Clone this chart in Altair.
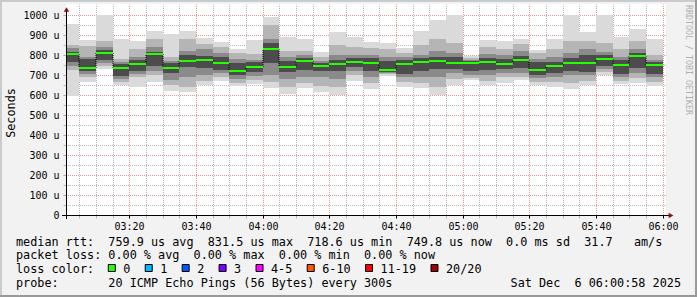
import altair as alt
import pandas as pd

# ---- data (minutes after 03:00, microseconds) ----
bar_start = [0, 5, 10, 15, 20, 25, 30, 35, 40, 45, 50, 55, 60, 65, 70, 75, 80, 85,
             90, 95, 100, 105, 110, 115, 120, 125, 130, 135, 140, 145, 150, 155, 160, 165, 170, 175]
medians = [803, 737, 808, 737, 753, 803, 735, 770, 775, 758, 719, 742, 832, 742, 772, 745, 753, 763,
           758, 725, 753, 765, 772, 758, 758, 767, 756, 775, 725, 745, 758, 758, 782, 750, 795, 750]
ping_min = [595, 667, 730, 650, 640, 667, 620, 617, 648, 670, 645, 655, 637, 603, 633, 617, 600, 672,
            628, 695, 640, 633, 600, 650, 675, 648, 662, 675, 650, 640, 630, 648, 700, 655, 662, 645]
ping_max = [955, 875, 1000, 880, 870, 920, 905, 920, 887, 865, 828, 875, 988, 892, 880, 815, 915, 892,
            865, 858, 835, 920, 975, 1000, 795, 875, 872, 882, 827, 882, 1000, 915, 1000, 892, 930, 880]
band2_lo = [725, 690, 745, 665, 690, 700, 650, 640, 670, 690, 660, 675, 665, 640, 660, 645, 640, 700,
            660, 705, 665, 660, 640, 680, 685, 670, 690, 690, 665, 665, 660, 670, 715, 670, 685, 665]
band2_hi = [850, 845, 870, 780, 830, 880, 790, 880, 855, 840, 810, 805, 950, 820, 820, 790, 850, 840,
            835, 830, 810, 850, 880, 860, 785, 840, 830, 855, 810, 830, 870, 870, 860, 830, 870, 800]
band3_lo = [745, 705, 760, 680, 705, 720, 675, 690, 700, 710, 680, 695, 700, 680, 690, 690, 680, 720,
            690, 710, 690, 690, 690, 710, 700, 700, 710, 710, 685, 690, 700, 700, 730, 690, 710, 690]
band3_hi = [835, 790, 840, 765, 790, 840, 770, 820, 830, 810, 780, 775, 880, 790, 800, 770, 800, 800,
            800, 790, 790, 800, 820, 810, 775, 805, 800, 820, 780, 790, 810, 830, 815, 790, 830, 775]
band4_lo = [765, 720, 775, 695, 720, 745, 710, 740, 735, 725, 700, 715, 760, 715, 725, 720, 720, 740,
            720, 715, 705, 720, 730, 730, 720, 725, 730, 735, 700, 710, 720, 715, 745, 705, 735, 705]
band4_hi = [815, 780, 825, 755, 775, 815, 760, 800, 795, 790, 760, 765, 860, 770, 785, 760, 775, 785,
            785, 770, 775, 785, 790, 790, 770, 785, 780, 795, 765, 765, 785, 800, 800, 775, 810, 765]

x_tick_values = [5 * i for i in range(1, 37)]
y_tick_values = [50 * i for i in range(0, 21)]

loss_labels = ["0", "1", "2", "3", "4-5", "6-10", "11-19", "20/20"]
loss_colors = ["#26ff00", "#00b8ff", "#0059ff", "#7e00ff", "#ff00ff", "#ff5500", "#ff0000", "#a10000"]

legend_line1 = "median rtt:  759.9 us avg  831.5 us max  718.6 us min  749.8 us now  0.0 ms sd  31.7   am/s"
legend_line2 = "packet loss: 0.00 % avg  0.00 % max  0.00 % min  0.00 % now"
legend_line3 = "loss color:"
legend_line4 = "probe:       20 ICMP Echo Pings (56 Bytes) every 300s"
legend_date = "Sat Dec  6 06:00:58 2025"
watermark = "RRDTOOL / TOBI OETIKER"

df = pd.DataFrame({
    "start": bar_start,
    "end": [s + 5 for s in bar_start],
    "median": medians,
    "pmin": ping_min, "pmax": ping_max,
    "b2lo": band2_lo, "b2hi": band2_hi,
    "b3lo": band3_lo, "b3hi": band3_hi,
    "b4lo": band4_lo, "b4hi": band4_hi,
})
steps = pd.DataFrame({
    "start": bar_start[1:],
    "prev": medians[:-1],
    "median": medians[1:],
})

MONO = "DejaVu Sans Mono"
minor_c = "#b8b8b8"
major_c = "#e69494"


def xenc(field="start"):
    return alt.X(
        f"{field}:Q",
        scale=alt.Scale(domain=[58 / 60, 180 + 58 / 60], nice=False, zero=False, round=True),
        axis=alt.Axis(
            values=x_tick_values, title=None, domain=False, zindex=0,
            grid=True, gridDash=[1, 1], gridDashOffset=0.5, gridWidth=1,
            gridColor={"condition": {"test": "datum.value % 20 === 0", "value": major_c}, "value": minor_c},
            ticks=True, tickSize=3,
            tickColor={"condition": {"test": "datum.value % 20 === 0", "value": "#000000"}, "value": minor_c},
            labelExpr="datum.value % 20 === 0 ? '0' + (3 + floor(datum.value / 60)) + ':' + (datum.value % 60 === 0 ? '00' : '' + (datum.value % 60)) : ''",
            labelFont=MONO, labelFontSize=10, labelColor="#000000", labelPadding=3,
            labelOverlap=False, labelFlush=False,
        ),
    )


def yenc(field):
    return alt.Y(
        f"{field}:Q",
        scale=alt.Scale(domain=[0, 1055], nice=False, zero=True, round=True),
        axis=alt.Axis(
            values=y_tick_values, title=None, domain=False, zindex=0,
            grid=True, gridDash=[1, 1], gridDashOffset=0.5, gridWidth=1,
            gridColor={"condition": {"test": "datum.value % 100 === 0", "value": major_c}, "value": minor_c},
            ticks=True, tickSize=3,
            tickColor={"condition": {"test": "datum.value % 100 === 0", "value": major_c}, "value": minor_c},
            labelExpr="datum.value % 100 === 0 ? (datum.value === 0 ? '0' : datum.value + ' u') : ''",
            labelFont=MONO, labelFontSize=10, labelColor="#000000", labelPadding=4,
            labelOverlap=False, labelFlush=False,
        ),
    )


base = alt.Chart(df)
layers = []
for lo, hi, col in [("pmin", "pmax", "#dadada"), ("b2lo", "b2hi", "#b5b5b5"),
                    ("b3lo", "b3hi", "#8a8a8a"), ("b4lo", "b4hi", "#4c4c4c")]:
    layers.append(base.mark_rect(color=col, clip=True).encode(
        x=xenc(), x2="end", y=yenc(lo), y2=hi))

layers.append(alt.Chart(steps).mark_rule(color="#000000", strokeWidth=1, strokeDash=[1, 1], clip=True).encode(
    x=xenc(), y=yenc("prev"), y2="median"))
layers.append(base.mark_rule(color="#26ff00", strokeWidth=2, clip=True).encode(
    x=xenc(), x2="end", y=yenc("median")))

one = pd.DataFrame({"k": [0]})


def deco_text(txt, x, y, **kw):
    opts = dict(font=MONO, fontSize=11.8, color="#000000", align="left", baseline="alphabetic")
    opts.update(kw)
    return alt.Chart(one).mark_text(text=txt.replace(" ", "\u00a0"), **opts).encode(
        x=alt.value(x), y=alt.value(y))


def deco_rect(x, x2, y, y2, **kw):
    return alt.Chart(one).mark_rect(**kw).encode(
        x=alt.value(x), x2=alt.value(x2), y=alt.value(y), y2=alt.value(y2))


# axis lines and arrows
layers.append(alt.Chart(one).mark_rule(color="#000000", strokeWidth=1).encode(
    x=alt.value(-4), x2=alt.value(604), y=alt.value(211.5)))
layers.append(alt.Chart(one).mark_rule(color="#000000", strokeWidth=1).encode(
    x=alt.value(0.5), y=alt.value(6), y2=alt.value(215)))
layers.append(alt.Chart(one).mark_point(shape="triangle-up", filled=True, size=30, color="#8b1010", opacity=1).encode(
    x=alt.value(0.5), y=alt.value(5.5)))
layers.append(alt.Chart(one).mark_point(shape="triangle-right", filled=True, size=30, color="#8b1010", opacity=1).encode(
    x=alt.value(605), y=alt.value(211.5)))

# y title and watermark
layers.append(deco_text("Seconds", -55, 109, angle=270, align="center", baseline="middle"))
layers.append(deco_text(watermark, 622, 56, angle=90, align="center", baseline="middle",
                        fontSize=8.3, color="#b0b0b0"))

# legend
cw = 7.13
layers.append(deco_text(legend_line1, -50, 241.5))
layers.append(deco_text(legend_line2, -50, 254.9))
layers.append(deco_text(legend_line3, -50, 268.7))
layers.append(deco_text(legend_line4, -50, 282.5))
layers.append(deco_text(legend_date, 615, 282.5, align="right"))
sx = 42.3
for lab, col in zip(loss_labels, loss_colors):
    layers.append(deco_rect(sx, sx + 7, 260.5, 267.5, fill=col, stroke="#000000", strokeWidth=1))
    layers.append(deco_text(lab, sx + 15, 268.7))
    sx = sx + 15 + len(lab) * cw + 14.8

# frame
layers.append(deco_rect(-66, 631, -4, -2, fill="#cbcbcb"))
layers.append(deco_rect(-66, -64, -4, 293, fill="#cbcbcb"))
layers.append(deco_rect(629, 631, -4, 293, fill="#999999"))
layers.append(deco_rect(-66, 631, 291, 293, fill="#999999"))

chart = alt.layer(*layers).properties(
    width=600, height=211,
    padding={"left": 66, "top": 4, "right": 31, "bottom": 82},
    autosize=alt.AutoSizeParams(type="none"),
    background="#f2f2f2",
).configure_view(stroke=None, fill="#ffffff")

chart.save("out.html", embed_options={"renderer": "svg", "actions": False})
